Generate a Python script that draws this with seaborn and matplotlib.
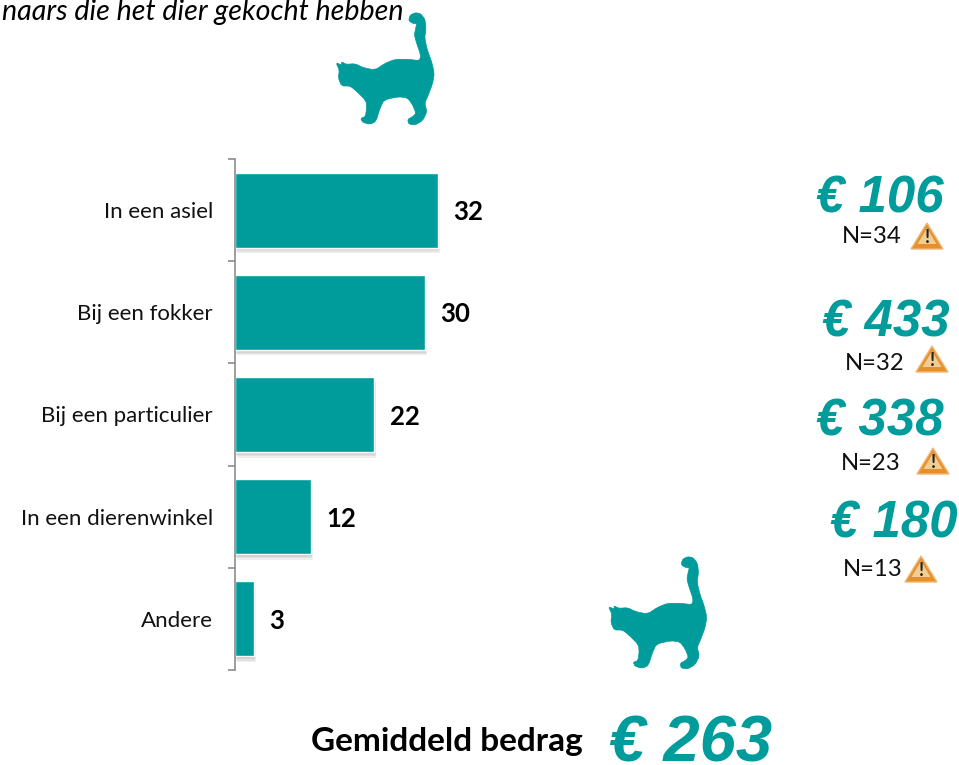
import numpy as np
import pandas as pd
import seaborn as sns
import matplotlib.pyplot as plt
import matplotlib.patheffects as pe
from matplotlib.patches import Polygon
from matplotlib.ticker import FixedLocator

teal = '#009B9B'

plaatsen = ['In een asiel', 'Bij een fokker', 'Bij een particulier', 'In een dierenwinkel', 'Andere']
procent = [32, 30, 22, 12, 3]
bedragen = ['€ 106', '€ 433', '€ 338', '€ 180']
aantallen = ['N=34', 'N=32', 'N=23', 'N=13']
gemiddeld = '€ 263'

sns.set_style('white')
plt.rcParams['font.family'] = ['Lato', 'DejaVu Sans']

W, H = 959, 765
fig = plt.figure(figsize=(W / 100, H / 100), dpi=100)

# bars, axes box in pixels of the reference
left, top, bottom, right = 235, 159, 670, 700
ax = fig.add_axes([left / W, 1 - bottom / H, (right - left) / W, (bottom - top) / H])
df = pd.DataFrame({'plaats': plaatsen, 'pct': procent})
sns.barplot(data=df, x='pct', y='plaats', color=teal, saturation=1, width=0.735, ax=ax)
ax.set_xlim(0, (right - left) / 6.34)
ax.set_ylim(4.5, -0.5)
ax.set_xlabel('')
ax.set_ylabel('')
ax.xaxis.set_visible(False)
sns.despine(ax=ax, top=True, right=True, bottom=True)
ax.spines['left'].set_color('#8c8c8c')
ax.spines['left'].set_linewidth(1.2)
ax.tick_params(axis='y', which='major', length=0, pad=15.8, labelsize=16, labelcolor='#111111')
ax.yaxis.set_minor_locator(FixedLocator(np.arange(-0.5, 5, 1)))
ax.tick_params(axis='y', which='minor', left=True, length=5, width=1.2, color='#8c8c8c')
# soft shadow under the bars
schaduw = [pe.SimplePatchShadow(offset=(d * 0.3, -d), shadow_rgbFace='#555555', alpha=0.09) for d in (4, 3, 2, 1)]
for b in ax.patches:
    b.set_path_effects(schaduw + [pe.Normal()])
labels = ax.bar_label(ax.containers[0], padding=11, fontsize=18.5, fontweight='bold', color='black')
for t in labels:
    t.xyann = (t.xyann[0], -1.5)

# everything around the chart in pixel coordinates
ov = fig.add_axes([0, 0, 1, 1], facecolor='none')
ov.set_xlim(0, W)
ov.set_ylim(H, 0)
ov.axis('off')

ov.text(403, 20, 'naars die het dier gekocht hebben', ha='right', va='baseline',
        fontsize=20.6, style='italic', color='black')

kat = np.array([(48, 188), (65, 195), (65, 185), (78, 193), (105, 191), (130, 203), (165, 210), (195, 190),
                (225, 178), (265, 178), (299, 182), (302, 165), (290, 130), (283, 105), (288, 80), (291, 72),
                (278, 70), (266, 62), (270, 46), (285, 38), (302, 41), (315, 58), (318, 85), (314, 115),
                (322, 150), (335, 185), (343, 220), (338, 250), (325, 285), (314, 310), (321, 335), (308, 362),
                (285, 375), (266, 372), (263, 358), (278, 350), (288, 340), (278, 315), (263, 294), (235, 290),
                (192, 300), (180, 325), (168, 364), (150, 373), (128, 367), (122, 355), (136, 350), (140, 325),
                (138, 302), (108, 272), (90, 258), (65, 258), (55, 235), (58, 210)], dtype=float) / 3
# round the corners of the silhouette
nxt = np.roll(kat, -1, axis=0)
kat = np.column_stack([0.8 * kat + 0.2 * nxt, 0.2 * kat + 0.8 * nxt]).reshape(-1, 2)
ov.add_patch(Polygon(kat + (320, 0), closed=True, fc=teal, ec=teal, lw=0.5))
ov.add_patch(Polygon(kat + (592.5, 544), closed=True, fc=teal, ec=teal, lw=0.5))


def waarschuwing(x, y):
    ov.add_patch(Polygon([(x + 16, y + 1), (x + 32, y + 27), (x, y + 27)], closed=True, fc='#E5902B', ec='#EDB878', lw=1))
    ov.add_patch(Polygon([(x + 16, y + 6), (x + 25.5, y + 22), (x + 6.5, y + 22)], closed=True, fc='#F2CD92', ec='none'))
    ov.text(x + 16, y + 15.5, '!', ha='center', va='center', fontsize=13, fontweight='bold', color='#222222')


bedrag_x = [944, 950, 944, 958]
bedrag_y = [199, 323, 422, 524]
n_x = [902, 905, 901, 903]
n_y = [236, 363, 463, 570]
icon_x = [911, 916, 917, 905]
icon_y = [222, 345, 447, 555]
for i in range(4):
    ov.text(bedrag_x[i], bedrag_y[i], bedragen[i], ha='right', va='center', fontsize=36.7,
            family='Liberation Sans', fontweight='bold', style='italic', color=teal)
    ov.text(n_x[i], n_y[i], aantallen[i], ha='right', va='center', fontsize=17.2, color='#111111')
    waarschuwing(icon_x[i], icon_y[i])

ov.text(583, 741, 'Gemiddeld bedrag', ha='right', va='center', fontsize=24, fontweight='bold', color='black')
ov.text(772, 762, gemiddeld, ha='right', va='baseline', fontsize=47,
        family='Liberation Sans', fontweight='bold', style='italic', color=teal)

fig.savefig('out.png', dpi=100)
